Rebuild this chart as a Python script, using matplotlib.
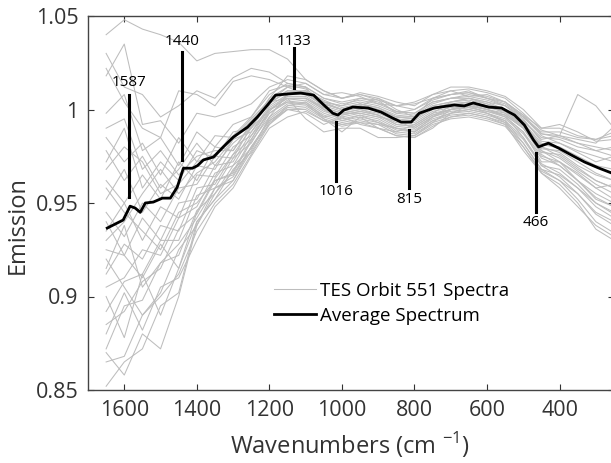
import numpy as np
import matplotlib.pyplot as plt

plt.rcParams['font.family'] = ['Open Sans', 'DejaVu Sans']

# common wavenumber grid for the individual spectra (cm-1)
wn = [1650, 1600, 1550, 1500, 1450, 1400, 1350, 1300, 1250, 1200, 1150, 1100,
      1050, 1000, 950, 900, 850, 800, 750, 700, 650, 600, 550, 500, 450, 400,
      350, 300, 250]

# TES orbit 551 spectra (roughly)
s01 = [1.040, 1.048, 1.043, 1.040, 1.036, 1.026, 1.030, 1.031, 1.032, 1.032, 1.027, 1.016, 1.010, 1.006, 1.008, 1.005, 1.002, 1.000, 1.006, 1.008, 1.009, 1.006, 1.004, 0.996, 0.987, 0.985, 0.982, 0.978, 0.975]
s02 = [1.030, 1.012, 1.008, 0.996, 1.002, 1.010, 1.006, 1.017, 1.022, 1.020, 1.014, 1.012, 1.006, 1.004, 1.006, 1.004, 0.999, 0.998, 1.004, 1.006, 1.008, 1.006, 1.002, 0.994, 0.984, 0.986, 1.008, 1.002, 0.990]
s03 = [1.018, 1.035, 0.992, 0.994, 0.982, 0.998, 0.996, 0.999, 1.003, 1.012, 1.016, 1.014, 1.008, 1.009, 1.007, 1.003, 1.002, 1.004, 1.008, 1.010, 1.011, 1.009, 1.006, 0.998, 0.989, 0.986, 0.984, 0.982, 0.991]
s04 = [0.998, 1.008, 0.978, 0.985, 0.970, 0.988, 0.980, 0.992, 0.996, 1.010, 1.013, 1.011, 1.004, 1.002, 1.004, 1.002, 0.998, 0.997, 1.003, 1.006, 1.007, 1.005, 1.002, 0.996, 0.988, 0.988, 0.985, 0.984, 0.986]
s05 = [0.985, 0.972, 0.982, 0.965, 0.985, 0.972, 0.986, 0.985, 0.995, 1.005, 1.010, 1.010, 1.005, 1.001, 1.003, 1.001, 0.997, 0.996, 1.002, 1.004, 1.005, 1.003, 1.000, 0.994, 0.985, 0.984, 0.980, 0.978, 0.980]
s06 = [0.972, 0.990, 0.958, 0.972, 0.962, 0.978, 0.974, 0.988, 0.990, 1.006, 1.012, 1.012, 1.006, 1.003, 1.005, 1.003, 0.999, 0.998, 1.004, 1.006, 1.006, 1.004, 1.002, 0.995, 0.983, 0.982, 0.977, 0.972, 0.975]
s07 = [0.962, 0.950, 0.965, 0.952, 0.972, 0.962, 0.980, 0.978, 0.993, 1.004, 1.009, 1.009, 1.003, 1.000, 1.002, 1.000, 0.996, 0.995, 1.001, 1.003, 1.004, 1.002, 0.999, 0.992, 0.981, 0.980, 0.975, 0.970, 0.968]
s08 = [0.952, 0.968, 0.945, 0.960, 0.952, 0.970, 0.968, 0.984, 0.988, 1.002, 1.008, 1.008, 1.002, 0.999, 1.001, 0.999, 0.995, 0.994, 1.000, 1.002, 1.003, 1.001, 0.999, 0.991, 0.979, 0.978, 0.972, 0.966, 0.962]
s09 = [0.945, 0.932, 0.950, 0.940, 0.958, 0.960, 0.975, 0.974, 0.991, 1.003, 1.010, 1.009, 1.004, 1.000, 1.003, 1.001, 0.996, 0.995, 1.001, 1.003, 1.004, 1.002, 1.000, 0.993, 0.982, 0.979, 0.974, 0.969, 0.966]
s10 = [0.935, 0.950, 0.930, 0.948, 0.942, 0.965, 0.964, 0.980, 0.986, 1.001, 1.007, 1.007, 1.001, 0.998, 1.000, 0.998, 0.994, 0.993, 0.999, 1.001, 1.002, 1.000, 0.997, 0.990, 0.977, 0.976, 0.969, 0.962, 0.958]
s11 = [0.925, 0.922, 0.942, 0.930, 0.950, 0.952, 0.970, 0.972, 0.988, 1.000, 1.006, 1.006, 1.000, 0.997, 0.999, 0.997, 0.993, 0.992, 0.998, 1.000, 1.002, 1.000, 0.998, 0.991, 0.980, 0.977, 0.970, 0.965, 0.962]
s12 = [0.912, 0.928, 0.920, 0.938, 0.935, 0.958, 0.960, 0.976, 0.984, 1.000, 1.006, 1.006, 1.001, 0.998, 1.000, 0.997, 0.992, 0.991, 0.997, 1.000, 1.001, 0.999, 0.996, 0.988, 0.975, 0.972, 0.965, 0.958, 0.952]
s13 = [0.905, 0.910, 0.925, 0.922, 0.942, 0.948, 0.966, 0.970, 0.986, 0.998, 1.004, 1.005, 0.999, 0.996, 0.998, 0.996, 0.991, 0.990, 0.996, 0.999, 1.000, 0.998, 0.995, 0.987, 0.974, 0.970, 0.962, 0.953, 0.948]
s14 = [0.892, 0.908, 0.912, 0.930, 0.930, 0.954, 0.958, 0.974, 0.982, 0.998, 1.005, 1.006, 1.000, 0.997, 0.999, 0.997, 0.992, 0.991, 0.997, 1.000, 1.001, 0.999, 0.997, 0.990, 0.978, 0.974, 0.967, 0.960, 0.955]
s15 = [0.885, 0.892, 0.908, 0.915, 0.936, 0.944, 0.962, 0.966, 0.983, 0.996, 1.003, 1.004, 0.998, 0.995, 0.997, 0.995, 0.990, 0.989, 0.995, 0.998, 0.999, 0.997, 0.994, 0.985, 0.971, 0.966, 0.958, 0.948, 0.942]
s16 = [0.872, 0.895, 0.898, 0.918, 0.922, 0.946, 0.955, 0.970, 0.979, 0.995, 1.002, 1.003, 0.997, 0.994, 0.996, 0.994, 0.989, 0.988, 0.994, 0.997, 0.998, 0.996, 0.993, 0.984, 0.970, 0.964, 0.955, 0.944, 0.938]
s17 = [0.865, 0.868, 0.890, 0.902, 0.925, 0.938, 0.958, 0.962, 0.980, 0.994, 1.001, 1.002, 0.996, 0.993, 0.995, 0.993, 0.988, 0.987, 0.993, 0.996, 0.997, 0.995, 0.992, 0.982, 0.968, 0.962, 0.952, 0.940, 0.934]
s18 = [0.852, 0.865, 0.872, 0.895, 0.902, 0.940, 0.952, 0.968, 0.977, 0.993, 1.000, 1.001, 0.995, 0.992, 0.994, 0.992, 0.987, 0.986, 0.992, 0.995, 0.996, 0.994, 0.991, 0.980, 0.966, 0.960, 0.950, 0.936, 0.930]
s19 = [0.900, 0.878, 0.912, 0.890, 0.915, 0.945, 0.963, 0.976, 0.990, 1.004, 1.006, 0.995, 0.988, 0.990, 0.990, 0.985, 0.985, 0.986, 0.993, 1.000, 1.003, 1.000, 0.996, 0.988, 0.972, 0.972, 0.962, 0.955, 0.950]
s20 = [1.022, 1.004, 0.990, 0.985, 1.010, 1.008, 1.002, 1.015, 1.018, 1.016, 1.012, 1.008, 1.003, 1.000, 1.002, 1.006, 1.000, 0.996, 1.006, 1.010, 1.007, 1.008, 1.004, 0.997, 0.990, 0.992, 0.988, 0.983, 0.984]
s21 = [0.978, 0.962, 0.975, 0.958, 0.968, 0.982, 0.970, 0.982, 0.990, 1.000, 1.004, 1.003, 0.995, 0.988, 0.996, 0.990, 0.986, 0.985, 0.990, 0.998, 1.002, 0.998, 0.994, 0.982, 0.968, 0.965, 0.958, 0.950, 0.945]
s22 = [0.958, 0.945, 0.935, 0.925, 0.945, 0.950, 0.962, 0.965, 0.980, 0.992, 1.000, 0.998, 0.992, 0.996, 0.992, 0.990, 0.988, 0.992, 0.998, 1.004, 1.006, 1.003, 1.000, 0.992, 0.978, 0.972, 0.966, 0.958, 0.960]
s23 = [0.940, 0.922, 0.910, 0.928, 0.915, 0.940, 0.952, 0.962, 0.978, 0.996, 1.008, 1.010, 1.004, 1.002, 1.006, 1.005, 0.998, 1.000, 1.005, 1.008, 1.010, 1.006, 1.003, 0.996, 0.986, 0.982, 0.978, 0.975, 0.972]
s24 = [0.920, 0.905, 0.890, 0.900, 0.912, 0.935, 0.950, 0.960, 0.976, 0.992, 1.002, 1.004, 0.996, 0.998, 0.998, 0.996, 0.994, 0.990, 0.996, 1.000, 1.002, 1.000, 0.997, 0.985, 0.970, 0.968, 0.960, 0.950, 0.944]
s25 = [0.880, 0.902, 0.882, 0.905, 0.910, 0.930, 0.948, 0.958, 0.975, 0.990, 0.996, 0.999, 0.994, 0.992, 0.993, 0.992, 0.990, 0.988, 0.994, 0.998, 1.000, 0.998, 0.993, 0.980, 0.967, 0.962, 0.955, 0.945, 0.940]
s26 = [0.870, 0.858, 0.880, 0.872, 0.900, 0.938, 0.955, 0.967, 0.984, 0.999, 1.008, 1.010, 1.003, 1.000, 1.003, 1.000, 0.996, 0.996, 1.002, 1.004, 1.006, 1.004, 1.000, 0.993, 0.980, 0.975, 0.968, 0.962, 0.958]
s27 = [0.990, 0.995, 0.968, 0.978, 0.965, 0.975, 0.978, 0.978, 0.992, 1.006, 1.018, 1.016, 1.010, 1.006, 1.009, 1.007, 1.004, 1.002, 1.008, 1.012, 1.012, 1.010, 1.007, 1.000, 0.990, 0.990, 0.986, 0.984, 0.988]
s28 = [0.968, 0.980, 0.972, 0.955, 0.960, 0.972, 0.976, 0.986, 0.996, 1.008, 1.014, 1.012, 1.000, 0.994, 0.997, 0.993, 0.990, 0.988, 0.996, 1.002, 1.004, 1.002, 0.998, 0.990, 0.976, 0.970, 0.962, 0.952, 0.948]
s29 = [0.930, 0.940, 0.955, 0.968, 0.955, 0.966, 0.972, 0.984, 0.994, 1.004, 1.012, 1.014, 1.008, 1.006, 1.008, 1.006, 1.002, 1.003, 1.006, 1.008, 1.009, 1.007, 1.004, 0.997, 0.987, 0.986, 0.982, 0.980, 0.978]
s30 = [0.915, 0.938, 0.905, 0.918, 0.928, 0.942, 0.958, 0.964, 0.980, 0.994, 1.000, 1.000, 0.994, 0.991, 0.993, 0.990, 0.986, 0.985, 0.991, 0.996, 0.998, 0.996, 0.992, 0.978, 0.966, 0.958, 0.948, 0.938, 0.932]
spectra = [s01, s02, s03, s04, s05, s06, s07, s08, s09, s10,
           s11, s12, s13, s14, s15, s16, s17, s18, s19, s20,
           s21, s22, s23, s24, s25, s26, s27, s28, s29, s30]

# average spectrum
avg_wn = [1647, 1603, 1584, 1570, 1556, 1542, 1520, 1495, 1473, 1454, 1437, 1412,
          1398, 1382, 1354, 1327, 1299, 1260, 1233, 1205, 1183, 1150, 1114, 1078,
          1050, 1025, 1011, 995, 970, 928, 892, 860, 837, 809, 787, 746, 690, 663,
          638, 596, 560, 524, 497, 472, 458, 431, 403, 367, 331, 292, 256]
avg_em = [0.9366, 0.9409, 0.9483, 0.9473, 0.9450, 0.9500, 0.9505, 0.9526, 0.9526,
          0.9585, 0.9686, 0.9686, 0.9700, 0.9730, 0.9746, 0.9800, 0.9853, 0.9906,
          0.9960, 1.0024, 1.0077, 1.0083, 1.0088, 1.0077, 1.0024, 0.9980, 0.9970,
          0.9997, 1.0013, 1.0008, 0.9986, 0.9954, 0.9933, 0.9933, 0.9980, 1.0008,
          1.0024, 1.0019, 1.0035, 1.0013, 1.0008, 0.9970, 0.9917, 0.9837, 0.9800,
          0.9820, 0.9794, 0.9756, 0.9719, 0.9687, 0.9660]

# band markers
peaks = [1587, 1440, 1133, 1016, 815, 466]
peak_top = [1.0077, 1.0310, 1.0330, 0.9933, 0.9890, 0.9770]
peak_bot = [0.9530, 0.9730, 1.0115, 0.9620, 0.9580, 0.9450]
label_y = [1.0142, 1.0361, 1.0366, 0.9559, 0.9521, 0.9398]

fig = plt.figure(figsize=(6.11, 4.63), dpi=100)
ax = fig.add_axes([88 / 611, 73 / 463, 526 / 611, 374 / 463])

for i, s in enumerate(spectra):
    ax.plot(wn, s, color='#bdbdbd', lw=0.75,
            label='TES Orbit 551 Spectra' if i == 0 else None)
ax.plot(avg_wn, avg_em, color='black', lw=2, label='Average Spectrum')

for p, t, b, ly in zip(peaks, peak_top, peak_bot, label_y):
    ax.plot([p, p], [b, t], color='black', lw=2.2)
    ax.text(p, ly, str(p), ha='center', va='center', fontsize=11)

ax.set_xlim(1700, 250)
ax.set_ylim(0.85, 1.05)
ax.set_xticks([1600, 1400, 1200, 1000, 800, 600, 400])
ax.set_yticks([0.85, 0.9, 0.95, 1.0, 1.05])
ax.set_yticklabels(['0.85', '0.9', '0.95', '1', '1.05'])
ax.tick_params(direction='in', top=True, right=True, length=4, width=0.8,
               labelsize=15.5, pad=7, colors='#333333')
for sp in ax.spines.values():
    sp.set_linewidth(1.0)
    sp.set_color('#444444')

fig.text(350 / 611, 1 - 445 / 463, 'Wavenumbers (cm $^{\\mathregular{-1}}$)',
         ha='center', va='center', fontsize=17, color='#333333')
fig.text(18 / 611, 1 - 225 / 463, 'Emission', rotation=90,
         ha='center', va='center', fontsize=17, color='#333333')

ax.legend(loc='upper left', bbox_to_anchor=(0.34, 0.31), frameon=False,
          fontsize=13.5, handlelength=2.2, handletextpad=0.25, labelspacing=0.38,
          borderaxespad=0)

fig.savefig('out.png', dpi=100)
